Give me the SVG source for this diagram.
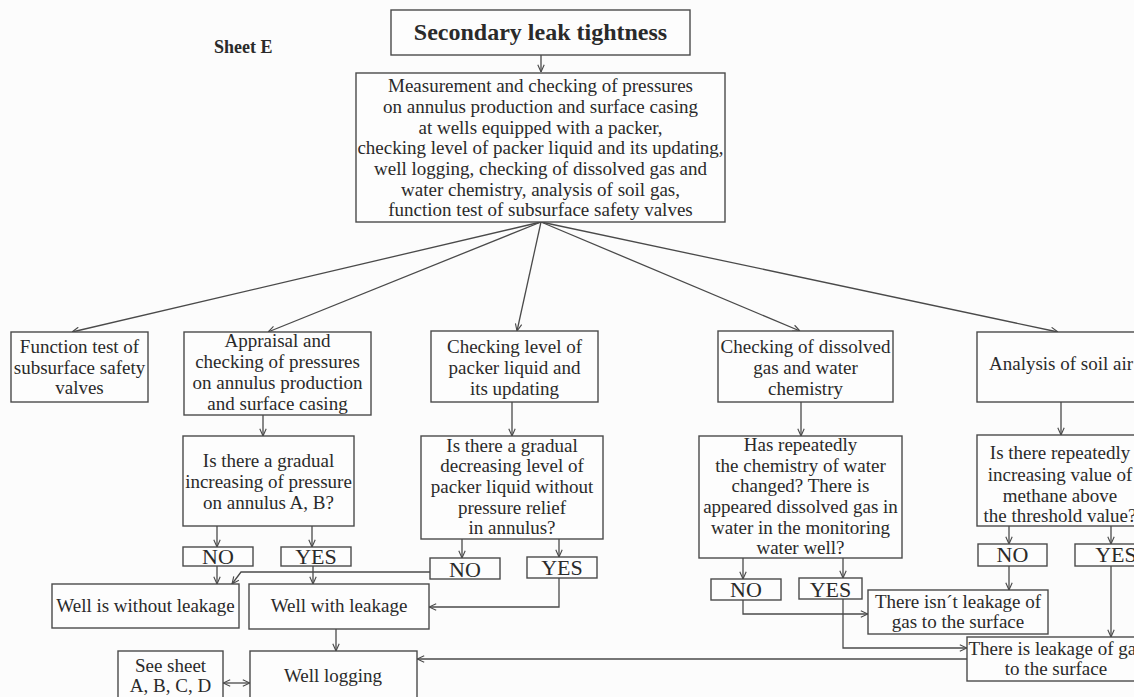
<svg xmlns="http://www.w3.org/2000/svg" width="1134" height="697" viewBox="0 0 1134 697">
<defs>
<style>
.b{fill:#fdfdfd;stroke:#4a4a4a;stroke-width:1.4}
.t{font-family:"Liberation Serif","Times New Roman",serif;font-size:19px;fill:#2a2a2a;text-anchor:middle}
.s{font-family:"Liberation Serif","Times New Roman",serif;font-size:19px;fill:#2a2a2a;text-anchor:start}
.l{font-family:"Liberation Serif","Times New Roman",serif;font-size:22px;fill:#2a2a2a;text-anchor:middle}
.h{font-family:"Liberation Serif","Times New Roman",serif;font-weight:bold;fill:#2a2a2a}
.c{fill:none;stroke:#4a4a4a;stroke-width:1.3}
</style>
<marker id="a" viewBox="0 0 10 10" refX="10" refY="5" markerWidth="8" markerHeight="8" orient="auto-start-reverse" markerUnits="userSpaceOnUse">
<path d="M1,1 L10,5 L1,9" fill="none" stroke="#4a4a4a" stroke-width="1.4"/>
</marker>
</defs>
<rect width="1134" height="697" fill="#fcfcfc"/>
<text class="h" x="214" y="53" font-size="18">Sheet E</text>

<g id="connectors">
<path class="c" marker-end="url(#a)" d="M541,55 V72"/>
<path class="c" marker-end="url(#a)" d="M541,222 L72,332"/>
<path class="c" marker-end="url(#a)" d="M541,222 L268,332"/>
<path class="c" marker-end="url(#a)" d="M541,222 L517,331"/>
<path class="c" marker-end="url(#a)" d="M541,222 L800,331"/>
<path class="c" marker-end="url(#a)" d="M541,222 L1058,332"/>
<path class="c" marker-end="url(#a)" d="M263,415 V436"/>
<path class="c" marker-end="url(#a)" d="M217,526 V547"/>
<path class="c" marker-end="url(#a)" d="M312,526 V547"/>
<path class="c" marker-end="url(#a)" d="M217,566 V584"/>
<path class="c" marker-end="url(#a)" d="M313,566 V584"/>
<path class="c" marker-end="url(#a)" d="M512,402 V436"/>
<path class="c" marker-end="url(#a)" d="M462,539 V558"/>
<path class="c" marker-end="url(#a)" d="M559,539 V557"/>
<path class="c" marker-end="url(#a)" d="M430,572 H241 L232,584"/>
<path class="c" marker-end="url(#a)" d="M559,578 V607 H429"/>
<path class="c" marker-end="url(#a)" d="M336,629 V651"/>
<path class="c" marker-start="url(#a)" marker-end="url(#a)" d="M223,683 H250"/>
<path class="c" marker-end="url(#a)" d="M967,659 H417"/>
<path class="c" marker-end="url(#a)" d="M801,402 V436"/>
<path class="c" marker-end="url(#a)" d="M743,558 V579"/>
<path class="c" marker-end="url(#a)" d="M843,558 V578"/>
<path class="c" marker-end="url(#a)" d="M743,600 V614 H868"/>
<path class="c" marker-end="url(#a)" d="M843,599 V648 H967"/>
<path class="c" marker-end="url(#a)" d="M1061,402 V435"/>
<path class="c" marker-end="url(#a)" d="M1009,526 V544"/>
<path class="c" marker-end="url(#a)" d="M1111,526 V544"/>
<path class="c" marker-end="url(#a)" d="M1009,566 V590"/>
<path class="c" marker-end="url(#a)" d="M1111,566 V637"/>
</g>

<g id="title">
<rect class="b" x="391" y="10" width="299" height="45"/>
<text class="h" x="540.5" y="40" font-size="24" text-anchor="middle">Secondary leak tightness</text>
</g>

<g id="main">
<rect class="b" x="356" y="73" width="369" height="149"/>
<text class="t" x="540.5" y="92">Measurement and checking of pressures</text>
<text class="t" x="540.5" y="113">on annulus production and surface casing</text>
<text class="t" x="540.5" y="134">at wells equipped with a packer,</text>
<text class="t" x="540.5" y="154">checking level of packer liquid and its updating,</text>
<text class="t" x="540.5" y="175">well logging, checking of dissolved gas and</text>
<text class="t" x="540.5" y="196">water chemistry, analysis of soil gas,</text>
<text class="t" x="540.5" y="216">function test of subsurface safety valves</text>
</g>

<g id="function-test">
<rect class="b" x="11" y="332" width="137" height="70"/>
<text class="t" x="79.5" y="353">Function test of</text>
<text class="t" x="79.5" y="374">subsurface safety</text>
<text class="t" x="79.5" y="394">valves</text>
</g>

<g id="appraisal">
<rect class="b" x="184" y="332" width="187" height="83"/>
<text class="t" x="277.5" y="347">Appraisal and</text>
<text class="t" x="277.5" y="368">checking of pressures</text>
<text class="t" x="277.5" y="389">on annulus production</text>
<text class="t" x="277.5" y="410">and surface casing</text>
</g>

<g id="checking-level">
<rect class="b" x="431" y="331" width="167" height="71"/>
<text class="t" x="514.5" y="353">Checking level of</text>
<text class="t" x="514.5" y="374">packer liquid and</text>
<text class="t" x="514.5" y="395">its updating</text>
</g>

<g id="checking-dissolved">
<rect class="b" x="718" y="331" width="175" height="71"/>
<text class="t" x="805.5" y="353">Checking of dissolved</text>
<text class="t" x="805.5" y="374">gas and water</text>
<text class="t" x="805.5" y="395">chemistry</text>
</g>

<g id="soil-air">
<rect class="b" x="977" y="332" width="170" height="70"/>
<text class="s" x="989" y="370">Analysis of soil air</text>
</g>

<g id="q1">
<rect class="b" x="183" y="436" width="171" height="90"/>
<text class="t" x="268.5" y="467">Is there a gradual</text>
<text class="t" x="268.5" y="488">increasing of pressure</text>
<text class="t" x="268.5" y="509">on annulus A, B?</text>
</g>

<g id="q2">
<rect class="b" x="421" y="436" width="182" height="103"/>
<text class="t" x="512" y="452">Is there a gradual</text>
<text class="t" x="512" y="472">decreasing level of</text>
<text class="t" x="512" y="493">packer liquid without</text>
<text class="t" x="512" y="514">pressure relief</text>
<text class="t" x="512" y="534">in annulus?</text>
</g>

<g id="q3">
<rect class="b" x="699" y="436" width="203" height="122"/>
<text class="t" x="800.5" y="451">Has repeatedly</text>
<text class="t" x="800.5" y="472">the chemistry of water</text>
<text class="t" x="800.5" y="492">changed? There is</text>
<text class="t" x="800.5" y="513">appeared dissolved gas in</text>
<text class="t" x="800.5" y="534">water in the monitoring</text>
<text class="t" x="800.5" y="554">water well?</text>
</g>

<g id="q4">
<rect class="b" x="977" y="435" width="170" height="91"/>
<text class="t" x="1060" y="459">Is there repeatedly</text>
<text class="t" x="1060" y="481">increasing value of</text>
<text class="t" x="1060" y="502">methane above</text>
<text class="t" x="1060" y="522">the threshold value?</text>
</g>

<g id="q1-no"><rect class="b" x="183" y="547" width="70" height="19"/><text class="l" x="218" y="564">NO</text></g>
<g id="q1-yes"><rect class="b" x="281" y="547" width="70" height="19"/><text class="l" x="316" y="564">YES</text></g>
<g id="q2-no"><rect class="b" x="430" y="558" width="70" height="21"/><text class="l" x="465" y="577">NO</text></g>
<g id="q2-yes"><rect class="b" x="527" y="557" width="70" height="21"/><text class="l" x="562" y="575">YES</text></g>
<g id="q3-no"><rect class="b" x="711" y="579" width="70" height="21"/><text class="l" x="746" y="597">NO</text></g>
<g id="q3-yes"><rect class="b" x="799" y="578" width="63" height="21"/><text class="l" x="830.5" y="597">YES</text></g>
<g id="q4-no"><rect class="b" x="978" y="544" width="69" height="22"/><text class="l" x="1012.5" y="562">NO</text></g>
<g id="q4-yes"><rect class="b" x="1075" y="544" width="72" height="22"/><text class="l" x="1116" y="562">YES</text></g>

<g id="without-leakage">
<rect class="b" x="52" y="584" width="187" height="44"/>
<text class="t" x="145.5" y="612">Well is without leakage</text>
</g>

<g id="with-leakage">
<rect class="b" x="249" y="584" width="180" height="45"/>
<text class="t" x="339" y="612">Well with leakage</text>
</g>

<g id="well-logging">
<rect class="b" x="250" y="651" width="167" height="60"/>
<text class="t" x="333" y="682">Well logging</text>
</g>

<g id="see-sheet">
<rect class="b" x="118" y="651" width="105" height="60"/>
<text class="t" x="170.5" y="672">See sheet</text>
<text class="t" x="170.5" y="692">A, B, C, D</text>
</g>

<g id="no-gas-leak">
<rect class="b" x="868" y="590" width="180" height="44"/>
<text class="t" x="958" y="608">There isn´t leakage of</text>
<text class="t" x="958" y="628">gas to the surface</text>
</g>

<g id="gas-leak">
<rect class="b" x="967" y="637" width="180" height="44"/>
<text class="t" x="1056" y="655">There is leakage of gas</text>
<text class="t" x="1056" y="675">to the surface</text>
</g>
</svg>
